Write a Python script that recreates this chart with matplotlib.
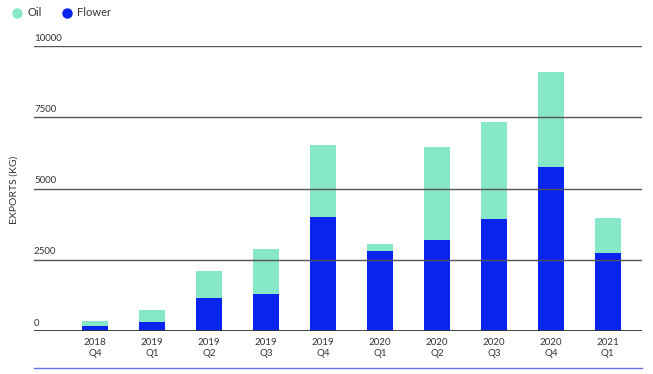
import matplotlib
matplotlib.use("Agg")
import matplotlib.pyplot as plt
from matplotlib.lines import Line2D
from matplotlib.transforms import offset_copy

categories = ["2018\nQ4", "2019\nQ1", "2019\nQ2", "2019\nQ3", "2019\nQ4",
              "2020\nQ1", "2020\nQ2", "2020\nQ3", "2020\nQ4", "2021\nQ1"]
flower = [175, 325, 1160, 1290, 4000, 2800, 3210, 3920, 5750, 2720]
oil_total = [350, 725, 2090, 2890, 6530, 3060, 6460, 7340, 9095, 3970]
oil = [t - f for t, f in zip(oil_total, flower)]
yticks = [0, 2500, 5000, 7500, 10000]
ytick_labels = ["0", "2500", "5000", "7500", "10000"]

OIL_C = "#86E8C8"
FLOWER_C = "#0A24F0"
TXT = "#333333"

plt.rcParams['font.family'] = ['Lato', 'DejaVu Sans']

W, H = 653, 374
fig = plt.figure(figsize=(W / 100, H / 100), dpi=100)
ax_left, ax_right = 34, 642
ax_top, ax_bottom = 46, 331
ax = fig.add_axes([ax_left / W, 1 - ax_bottom / H, (ax_right - ax_left) / W, (ax_bottom - ax_top) / H])

x = list(range(len(categories)))
ax.bar(x, flower, width=0.45, color=FLOWER_C, zorder=2)
ax.bar(x, oil, width=0.45, bottom=flower, color=OIL_C, zorder=2)

ax.set_xlim(-1.07, 9.6)
ax.set_ylim(0, 10000)
for s in ax.spines.values():
    s.set_visible(False)
ax.set_yticks([])
ax.set_xticks(x)
ax.set_xticklabels(categories, fontsize=7, color=TXT, linespacing=1.3)
ax.tick_params(axis='x', length=0, pad=5)

lab_tr = offset_copy(ax.get_yaxis_transform(), fig=fig, x=0, y=2.5, units='points')
for v, lab in zip(yticks, ytick_labels):
    if v == 0:
        ax.axhline(v, color="#333333", lw=1.3, zorder=3)
    else:
        ax.axhline(v, color="#555555", lw=1.0, zorder=3)
    ax.text(0.0, v, lab, transform=lab_tr, ha='left', va='bottom',
            fontsize=7, color=TXT, clip_on=False)

fig.text(14 / W, 1 - 190 / H, "EXPORTS (KG)", rotation=90, ha='center', va='center',
         fontsize=7.5, color=TXT)

# Legend
fig.add_artist(Line2D([17 / W], [1 - 13 / H], marker='o', color=OIL_C, markersize=6.5,
                      linestyle='none', transform=fig.transFigure))
fig.text(27 / W, 1 - 13 / H, "Oil", ha='left', va='center', fontsize=8, color=TXT)
fig.add_artist(Line2D([67 / W], [1 - 13 / H], marker='o', color=FLOWER_C, markersize=6.5,
                      linestyle='none', transform=fig.transFigure))
fig.text(77 / W, 1 - 13 / H, "Flower", ha='left', va='center', fontsize=8, color=TXT)

# Bottom rule
fig.add_artist(Line2D([ax_left / W, ax_right / W], [1 - 368 / H, 1 - 368 / H],
                      color="#6474E8", lw=1.0, transform=fig.transFigure))

fig.savefig("out.png", dpi=100)
